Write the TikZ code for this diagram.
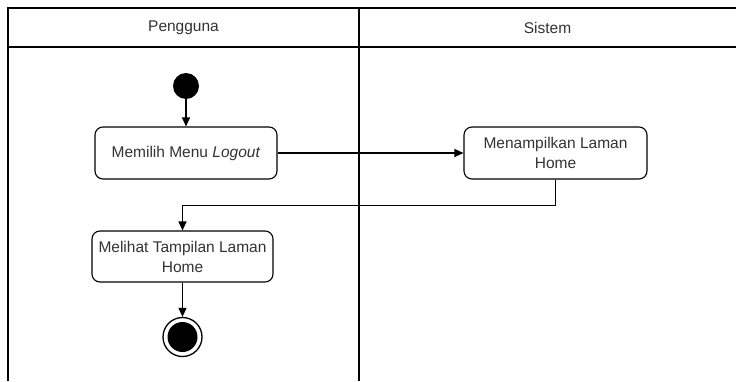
\documentclass[tikz,border=0pt]{standalone}
\usepackage{fontspec}
\setmainfont{Liberation Sans}
\usetikzlibrary{arrows.meta}
\definecolor{txt}{HTML}{333333}
\begin{document}
\begin{tikzpicture}[x=1pt,y=-1pt,
  lane/.style={draw=black,line width=1.2pt},
  actbox/.style={draw=black,line width=1.1pt,rounded corners=8pt,fill=white,
    minimum width=182pt,minimum height=52pt,inner sep=2pt,align=center,
    text=txt,font=\fontsize{15.5}{20}\selectfont},
  lbl/.style={text=txt,font=\fontsize{15.5}{20}\selectfont},
  flow/.style={draw=black,line width=1.1pt,-{Triangle[length=9pt,width=8pt]}}]
\useasboundingbox (0,0) rectangle (736,381);
\fill[white] (0,0) rectangle (736,381);
% swimlanes
\draw[lane] (8,381) -- (8,8) -- (740,8);
\draw[lane] (8,47) -- (740,47);
\draw[lane] (359,8) -- (359,381);
\node[lbl] (h1) at (183.5,28) {Pengguna};
\node[lbl] (h2) at (547.5,28) {Sistem};
% nodes
\node[circle,fill=black,minimum size=26pt,inner sep=0pt] (start) at (186,86) {};
\node[actbox] (b1) at (186,153) {Memilih Menu \textit{Logout}};
\node[actbox,minimum width=183pt] (b2) at (555.5,153) {Menampilkan Laman\\Home};
\node[actbox,minimum width=181pt,minimum height=51pt] (b3) at (182.5,256.5) {Melihat Tampilan Laman\\Home};
\node[circle,draw=black,line width=1.3pt,minimum size=39pt,inner sep=0pt] (end) at (182.5,337) {};
\node[circle,fill=black,minimum size=30pt,inner sep=0pt] (endin) at (end.center) {};
% connectors
\draw[flow] (start) -- (b1.north);
\draw[flow] (b1.east) -- (b2.west);
\draw[flow] (b2.south) -- ++(0,26) coordinate (c1) -| (b3.north);
\draw[flow] (b3.south) -- (end.north);
\end{tikzpicture}
\end{document}
